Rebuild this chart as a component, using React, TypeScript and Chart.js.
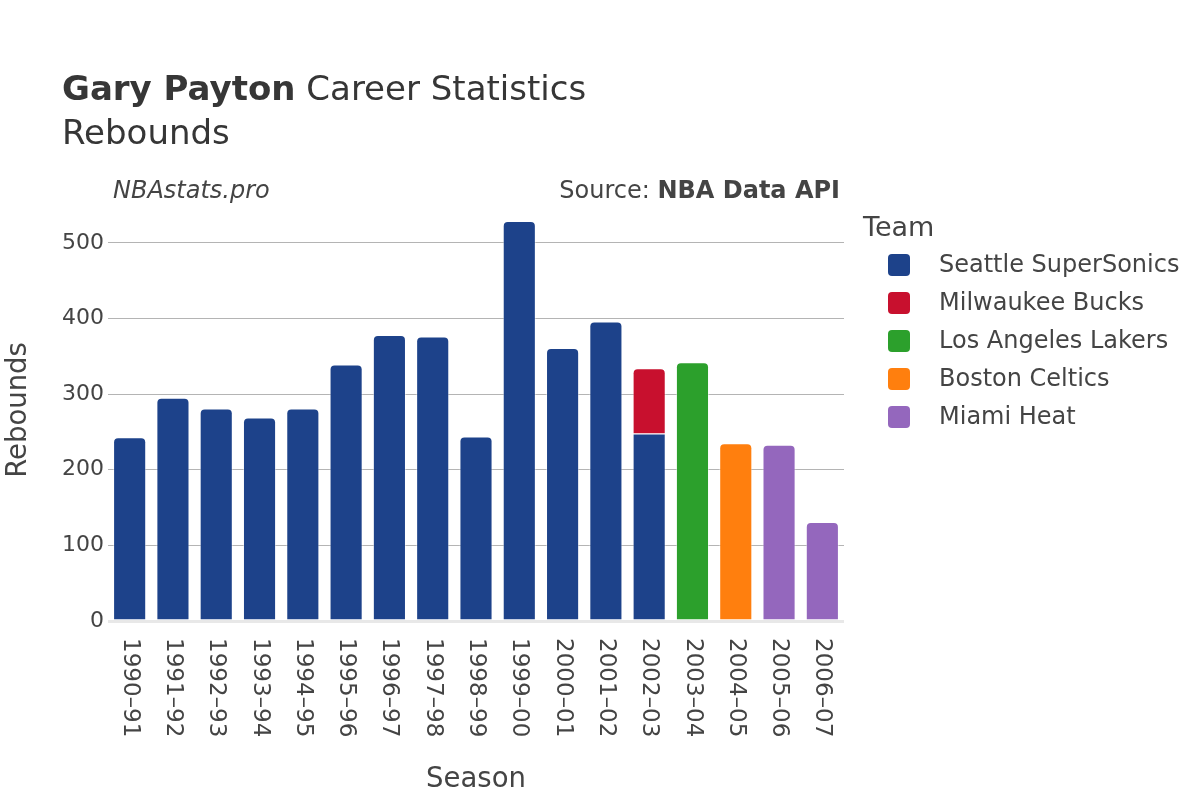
import React, { useEffect, useRef } from "react";
import { Chart, registerables } from "chart.js";

Chart.register(...registerables);

const seasons = [
  "1990–91", "1991–92", "1992–93", "1993–94", "1994–95", "1995–96", "1996–97",
  "1997–98", "1998–99", "1999–00", "2000–01", "2001–02", "2002–03", "2003–04",
  "2004–05", "2005–06", "2006–07",
];

const seattle = [243, 295, 281, 269, 281, 339, 378, 376, 244, 529, 361, 396, 248, null, null, null, null];
const milwaukee = [null, null, null, null, null, null, null, null, null, null, null, null, 86, null, null, null, null];
const lakers = [null, null, null, null, null, null, null, null, null, null, null, null, null, 342, null, null, null];
const celtics = [null, null, null, null, null, null, null, null, null, null, null, null, null, null, 235, null, null];
const heat = [null, null, null, null, null, null, null, null, null, null, null, null, null, null, null, 233, 131];

const teams = ["Seattle SuperSonics", "Milwaukee Bucks", "Los Angeles Lakers", "Boston Celtics", "Miami Heat"];
const teamColors = ["#1d428a", "#c8102e", "#2ca02c", "#ff7f0e", "#9467bd"];
const yTicks = [0, 100, 200, 300, 400, 500];

const FONT = "'DejaVu Sans', sans-serif";
const TEXT = "#444";
const TITLE = "#363636";

export default function App() {
  const ref = useRef<HTMLCanvasElement | null>(null);

  useEffect(() => {
    const canvas = ref.current;
    if (!canvas) return;
    const seriesList = [seattle, milwaukee, lakers, celtics, heat];

    const isTop = (di: number, i: number) => {
      for (let d = di + 1; d < seriesList.length; d++) {
        const v = seriesList[d][i];
        if (v !== null && v !== undefined && v > 0) return false;
      }
      return true;
    };

    const textPlugin = {
      id: "texts",
      afterDraw(chart: any) {
        const ctx = chart.ctx as CanvasRenderingContext2D;
        const xs = chart.scales.x;
        ctx.save();
        // Title
        ctx.fillStyle = TITLE;
        ctx.textBaseline = "alphabetic";
        ctx.textAlign = "left";
        ctx.font = `bold 34px ${FONT}`;
        const bold = "Gary Payton";
        ctx.fillText(bold, 62, 100);
        const bw = ctx.measureText(bold).width;
        ctx.font = `34px ${FONT}`;
        ctx.fillText(" Career Statistics", 62 + bw, 100);
        ctx.fillText("Rebounds", 62, 144);

        ctx.fillStyle = TEXT;
        // Subtitles
        ctx.font = `italic 24px ${FONT}`;
        ctx.fillText("NBAstats.pro", 113, 198);
        ctx.font = `bold 24px ${FONT}`;
        ctx.textAlign = "right";
        const src = "NBA Data API";
        ctx.fillText(src, 840, 198);
        const sw = ctx.measureText(src).width;
        ctx.font = `24px ${FONT}`;
        ctx.fillText("Source: ", 840 - sw, 198);

        // X tick labels (rotated clockwise)
        ctx.font = `23px ${FONT}`;
        ctx.textAlign = "left";
        ctx.textBaseline = "middle";
        seasons.forEach((s, i) => {
          const x = xs.getPixelForTick(i);
          ctx.save();
          ctx.translate(x, 638);
          ctx.rotate(Math.PI / 2);
          ctx.fillText(s, 0, 0);
          ctx.restore();
        });

        // Axis titles
        ctx.font = `27.5px ${FONT}`;
        ctx.textAlign = "center";
        ctx.textBaseline = "alphabetic";
        ctx.fillText("Season", (chart.chartArea.left + chart.chartArea.right) / 2, 787);
        ctx.save();
        ctx.translate(26, 410);
        ctx.rotate(-Math.PI / 2);
        ctx.fillText("Rebounds", 0, 0);
        ctx.restore();

        // Legend
        ctx.textAlign = "left";
        ctx.font = `27px ${FONT}`;
        ctx.fillText("Team", 863, 236);
        ctx.font = `24px ${FONT}`;
        ctx.textBaseline = "middle";
        teams.forEach((t, i) => {
          const cy = 265 + i * 38;
          ctx.fillStyle = teamColors[i];
          ctx.beginPath();
          (ctx as any).roundRect(888, cy - 11, 22, 22, 4);
          ctx.fill();
          ctx.fillStyle = TEXT;
          ctx.fillText(t, 939, cy + 1);
        });
        ctx.restore();
      },
    };

    const chart = new Chart(canvas, {
      type: "bar",
      data: {
        labels: seasons,
        datasets: seriesList.map((vals, di) => ({
          label: teams[di],
          data: vals,
          backgroundColor: teamColors[di],
          borderColor: "rgba(255,255,255,0.45)",
          borderWidth: 1,
          borderSkipped: "start",
          borderRadius: (c: any) =>
            isTop(di, c.dataIndex)
              ? { topLeft: 5, topRight: 5, bottomLeft: 0, bottomRight: 0 }
              : 0,
          barPercentage: 0.765,
          categoryPercentage: 1,
        })),
      },
      options: {
        responsive: false,
        animation: false,
        devicePixelRatio: 1,
        layout: { padding: { top: 205, right: 356, left: 0, bottom: 0 } },
        plugins: {
          legend: { display: false },
          title: { display: false },
          tooltip: { enabled: false },
        },
        scales: {
          x: {
            stacked: true,
            grid: { display: false },
            border: { display: false },
            ticks: { display: false },
            afterFit: (s: any) => {
              s.height = 179;
            },
          },
          y: {
            stacked: true,
            min: 0,
            max: 550,
            border: { display: false },
            afterBuildTicks: (s: any) => {
              s.ticks = yTicks.map((v) => ({ value: v }));
            },
            afterFit: (s: any) => {
              s.width = 108;
            },
            grid: {
              drawTicks: false,
              color: (c: any) => (c.tick && c.tick.value === 0 ? "#e8e8e8" : "#b4b4b4"),
              lineWidth: (c: any) => (c.tick && c.tick.value === 0 ? 3 : 1),
            },
            ticks: {
              padding: 4,
              color: TEXT,
              font: { family: FONT, size: 22 },
            },
          },
        },
      },
      plugins: [textPlugin],
    });
    return () => chart.destroy();
  }, []);

  return (
    <div style={{ position: "fixed", left: 0, top: 0, width: 1200, height: 800, background: "#fff" }}>
      <canvas ref={ref} width={1200} height={800} style={{ display: "block" }} />
    </div>
  );
}
